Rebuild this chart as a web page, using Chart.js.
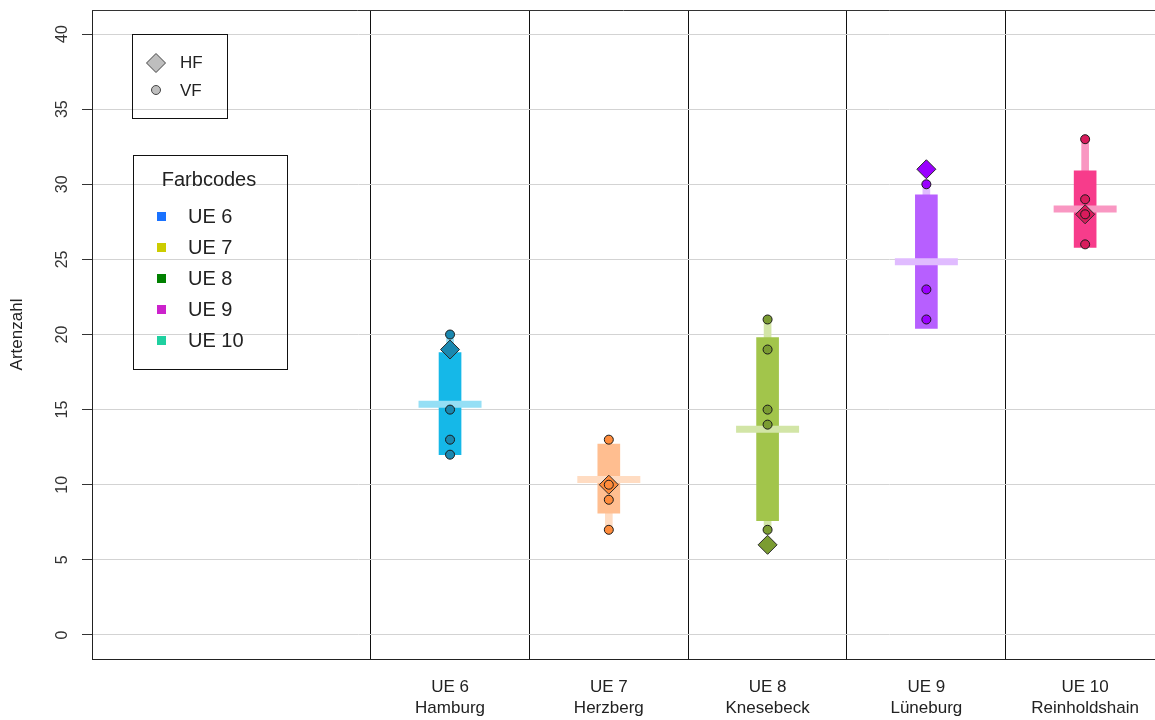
<!DOCTYPE html>
<html lang="de">
<head>
<meta charset="utf-8">
<title>Artenzahl je UE</title>
<script src="https://cdn.jsdelivr.net/npm/chart.js@4.4.1/dist/chart.umd.min.js"></script>
<style>
  html, body { margin: 0; padding: 0; background: #fff; }
  #wrap { position: relative; width: 1155px; height: 720px; }
</style>
</head>
<body>
<div id="wrap"><canvas id="arten"></canvas></div>
<script>
// Untersuchungseinheiten
var gruppen = ['UE 6', 'UE 7', 'UE 8', 'UE 9', 'UE 10'];
var orte = ['Hamburg', 'Herzberg', 'Knesebeck', 'Lüneburg', 'Reinholdshain'];

// Balken (unten / oben) und Mittelstrich
var balkenUnten = [12.0, 8.1, 7.6, 20.4, 25.8];
var balkenOben = [18.8, 12.7, 19.8, 29.3, 30.9];
var mitte = [15.35, 10.35, 13.7, 24.85, 28.35];

// Einzelwerte
var vfWerte = [[20, 15, 13, 12], [13, 10, 9, 7], [21, 19, 15, 14, 7], [30, 23, 21], [33, 29, 28, 26]];
var hfWerte = [19, 10, 6, 31, 28];

var yTicks = [0, 5, 10, 15, 20, 25, 30, 35, 40];
var symbolLegende = ['HF', 'VF'];
var farbLegende = ['UE 6', 'UE 7', 'UE 8', 'UE 9', 'UE 10'];

// Farben
var farbeBalken = ['#15b8e8', '#ffbe90', '#a2c54b', '#b75fff', '#f73c8b'];
var farbeHell = ['#95dff5', '#ffdcc2', '#d2e5a6', '#e0bbff', '#f997c2'];
var farbePunkt = ['#1a88b0', '#ff8c3c', '#7b9c32', '#9a00ff', '#d81b5c'];
var farbeCodes = ['#1a72ff', '#cccc00', '#008000', '#cc22cc', '#1fd0a0'];

var ERSTE = 3; // x-Position der ersten Gruppe

var whiskerDaten = [], balkenDaten = [], mitteDaten = [], hfDaten = [], vfDaten = [];
gruppen.forEach(function (g, i) {
  var x = ERSTE + i;
  whiskerDaten.push({ x: x, y: [Math.min.apply(null, vfWerte[i]), Math.max.apply(null, vfWerte[i])] });
  balkenDaten.push({ x: x, y: [balkenUnten[i], balkenOben[i]] });
  mitteDaten.push({ x: x, y: mitte[i], g: i });
  hfDaten.push({ x: x, y: hfWerte[i], g: i });
  vfWerte[i].forEach(function (v) { vfDaten.push({ x: x, y: v, g: i }); });
});

var xTicks = [];
gruppen.forEach(function (g, i) { xTicks.push(ERSTE + i - 0.5, ERSTE + i); });

function punktFarbe(c) { return c.raw ? farbePunkt[c.raw.g] : '#999'; }

var rahmen = {
  id: 'rahmen',
  beforeDatasetsDraw: function (chart) {
    var a = chart.chartArea, ctx = chart.ctx;
    ctx.save();
    ctx.strokeStyle = '#333';
    ctx.lineWidth = 1;
    ctx.beginPath();
    ctx.moveTo(a.left, a.top + 0.5);
    ctx.lineTo(a.right, a.top + 0.5);
    ctx.stroke();
    ctx.restore();
  },
  afterDraw: function (chart) {
    var ctx = chart.ctx;
    ctx.save();
    ctx.strokeStyle = '#111';
    ctx.lineWidth = 1;
    // Symbol-Legende
    ctx.strokeRect(132.5, 34.5, 95, 84);
    ctx.fillStyle = '#bebebe';
    ctx.strokeStyle = '#444';
    ctx.beginPath();
    ctx.moveTo(146.5, 63); ctx.lineTo(156, 53.5); ctx.lineTo(165.5, 63); ctx.lineTo(156, 72.5);
    ctx.closePath(); ctx.fill(); ctx.stroke();
    ctx.beginPath();
    ctx.arc(156, 90, 4.5, 0, Math.PI * 2);
    ctx.fill(); ctx.stroke();
    ctx.fillStyle = '#222';
    ctx.font = '17px "Liberation Sans", Arial, sans-serif';
    ctx.textBaseline = 'middle';
    ctx.textAlign = 'left';
    ctx.fillText(symbolLegende[0], 180, 63);
    ctx.fillText(symbolLegende[1], 180, 91);
    // Farbcodes
    ctx.strokeStyle = '#111';
    ctx.strokeRect(133.5, 155.5, 154, 214);
    ctx.font = '20px "Liberation Sans", Arial, sans-serif';
    ctx.textAlign = 'center';
    ctx.fillText('Farbcodes', 209, 180);
    ctx.textAlign = 'left';
    farbLegende.forEach(function (t, i) {
      var y = 217 + i * 31;
      ctx.fillStyle = farbeCodes[i];
      ctx.fillRect(157, y - 5, 9, 9);
      ctx.fillStyle = '#222';
      ctx.fillText(t, 188, y);
    });
    ctx.restore();
  }
};

new Chart(document.getElementById('arten').getContext('2d'), {
  type: 'bar',
  data: {
    datasets: [
      { type: 'scatter', label: 'VF', data: vfDaten, order: 1, pointStyle: 'circle', pointRadius: 4.5,
        backgroundColor: punktFarbe, borderColor: '#1a1a1a', borderWidth: 1 },
      { type: 'scatter', label: 'HF', data: hfDaten, order: 2, pointStyle: 'rectRot', pointRadius: 9.5,
        backgroundColor: punktFarbe, borderColor: '#2a2a2a', borderWidth: 1 },
      { type: 'scatter', label: 'Mitte', data: mitteDaten, order: 3, pointStyle: 'line', pointRadius: 31.5,
        borderColor: farbeHell, borderWidth: 7, backgroundColor: farbeHell },
      { label: 'Balken', data: balkenDaten, order: 4, backgroundColor: farbeBalken,
        barThickness: 22, grouped: false, borderWidth: 0 },
      { label: 'Spanne', data: whiskerDaten, order: 5, backgroundColor: farbeHell,
        barThickness: 7, grouped: false, borderWidth: 0 }
    ]
  },
  options: {
    responsive: true,
    maintainAspectRatio: false,
    animation: false,
    layout: { autoPadding: false, padding: { top: 10, right: 0, left: 0, bottom: 0 } },
    plugins: { legend: { display: false }, tooltip: { enabled: false } },
    scales: {
      x: {
        type: 'linear',
        min: 0.745,
        max: 7.44,
        offset: false,
        afterBuildTicks: function (s) { s.ticks = xTicks.map(function (v) { return { value: v }; }); },
        afterFit: function (s) { s.height = 61; s.paddingLeft = 0; s.paddingRight = 0; },
        grid: {
          offset: false,
          drawTicks: false,
          color: function (c) { return (c.tick && c.tick.value % 1 !== 0) ? '#111' : 'rgba(0,0,0,0)'; }
        },
        border: { display: true, color: '#222', width: 1 },
        ticks: {
          autoSkip: false,
          maxRotation: 0,
          padding: 18,
          color: '#222',
          font: { family: '"Liberation Sans", Arial, sans-serif', size: 17, lineHeight: 1.24 },
          callback: function (v) {
            var i = v - ERSTE;
            return (i % 1 === 0 && i >= 0) ? [gruppen[i], orte[i]] : '';
          }
        }
      },
      y: {
        min: -1.6,
        max: 41.6,
        afterBuildTicks: function (s) { s.ticks = yTicks.map(function (v) { return { value: v }; }); },
        afterFit: function (s) { s.width = 92; s.paddingTop = 0; s.paddingBottom = 0; },
        grid: { color: '#d3d3d3', tickColor: '#333', tickLength: 10 },
        border: { display: true, color: '#222', width: 1 },
        title: { display: true, text: 'Artenzahl', color: '#222', padding: { top: 7, bottom: 0 },
          font: { family: '"Liberation Sans", Arial, sans-serif', size: 17 } },
        ticks: {
          minRotation: 90,
          maxRotation: 90,
          crossAlign: 'center',
          padding: 11,
          color: '#333',
          font: { family: '"Liberation Sans", Arial, sans-serif', size: 16 }
        }
      }
    }
  },
  plugins: [rahmen]
});
</script>
</body>
</html>
